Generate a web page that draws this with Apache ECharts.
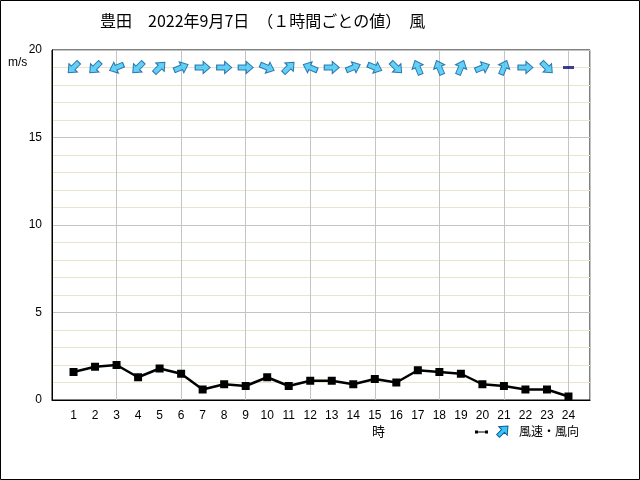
<!DOCTYPE html>
<html><head><meta charset="utf-8">
<script src="https://cdn.jsdelivr.net/npm/echarts@6/dist/echarts.min.js"></script>
<style>html,body{margin:0;padding:0;background:#fff}#c{width:640px;height:480px}</style>
</head><body><div id="c"></div>
<script>
const hours = [1,2,3,4,5,6,7,8,9,10,11,12,13,14,15,16,17,18,19,20,21,22,23,24];
const speed = [1.6,1.9,2.0,1.3,1.8,1.5,0.6,0.9,0.8,1.3,0.8,1.1,1.1,0.9,1.2,1.0,1.7,1.6,1.5,0.9,0.8,0.6,0.6,0.2];
const windDir = ['北東','北東','東北東','北東','南西','西南西','西','西','西','西北西','南西','東南東','西','西南西','西北西','北西','南南東','南南東','南南西','西南西','南南西','西','北西','静穏'];
const yTicks = [0,5,10,15,20];
const arrowRowY = 19;

const dirDeg = {'北':0,'北北東':22.5,'北東':45,'東北東':67.5,'東':90,'東南東':112.5,'南東':135,'南南東':157.5,'南':180,'南南西':202.5,'南西':225,'西南西':247.5,'西':270,'西北西':292.5,'北西':315,'北北西':337.5};
const arrowPath = 'path://M0,4 L8,4 L8,0 L15,7 L8,14 L8,10 L0,10 Z';
const font = '"Liberation Sans", "DejaVu Sans", sans-serif';
const cjk = '"Noto Sans CJK JP", sans-serif';

const windData = hours.map((h,i)=>{
  const d = windDir[i];
  if (d === '静穏') {
    return {value:[h, arrowRowY], symbol:'rect', symbolSize:[11,3], symbolRotate:0,
      itemStyle:{color:'#101078', borderWidth:0}};
  }
  const b = (dirDeg[d] + 180) % 360;
  return {value:[h, arrowRowY], symbolRotate: 90 - b};
});

const chart = echarts.init(document.getElementById('c'), null, {renderer:'canvas'});
chart.setOption({
  animation:false,
  backgroundColor:'#fff',
  title:{text:'豊田　2022年9月7日　（１時間ごとの値）　風', left:95, top:8,
    textStyle:{fontFamily:cjk, fontSize:16, fontWeight:'normal', color:'#000'}},
  grid:{left:52, top:50, right:50, bottom:80, show:true, borderColor:'#000', borderWidth:1, backgroundColor:'#fff'},
  xAxis:[{
    type:'value', min:0, max:25, interval:1,
    axisLine:{lineStyle:{color:'#000', width:1}},
    axisTick:{show:false},
    splitLine:{show:false},
    axisLabel:{fontFamily:font, fontSize:12, color:'#000', margin:10,
      formatter:v=> (hours.indexOf(v)>=0 ? String(v) : '')}
  },{
    type:'value', min:0, max:25, interval:3, position:'bottom',
    axisLine:{show:false}, axisTick:{show:false}, axisLabel:{show:false},
    splitLine:{show:true, lineStyle:{color:'#c4c4c4', width:1}}
  }],
  yAxis:{
    type:'value', min:0, max:20, interval:5,
    axisLine:{show:true, lineStyle:{color:'#000'}},
    axisTick:{show:false},
    axisLabel:{fontFamily:font, fontSize:12, color:'#000', margin:10},
    splitLine:{show:true, lineStyle:{color:'#c4c4c4'}},
    minorTick:{show:false, splitNumber:5},
    minorSplitLine:{show:true, lineStyle:{color:'#ebe4cc'}}
  },
  series:[{
    type:'line', name:'風速', data: hours.map((h,i)=>[h, speed[i]]),
    lineStyle:{color:'#000', width:2.5}, itemStyle:{color:'#000'},
    symbol:'rect', symbolSize:8, z:5
  },{
    type:'scatter', name:'風向', data: windData,
    symbol: arrowPath, symbolSize:[15,12],
    itemStyle:{color:'#3cc4f6', borderColor:'#0a5a9a', borderWidth:1}, z:6
  }],
  graphic:[
    {type:'rect', shape:{x:0.5,y:0.5,width:639,height:479}, style:{fill:null, stroke:'#000', lineWidth:1}},
    {type:'text', x:8, y:57, style:{text:'m/s', font:'12px ' + font, fill:'#000'}},
    {type:'text', x:372, y:425, style:{text:'時', font:'13px ' + cjk, fill:'#000'}},
    {type:'line', shape:{x1:476,y1:432,x2:487,y2:432}, style:{stroke:'#000', lineWidth:1}},
    {type:'rect', shape:{x:475,y:430.5,width:3,height:3}, style:{fill:'#000'}},
    {type:'rect', shape:{x:485,y:430.5,width:3,height:3}, style:{fill:'#000'}},
    {type:'polygon', shape:{points:[[-7,-2],[0,-2],[0,-6],[7,0],[0,6],[0,2],[-7,2]]},
      x:503, y:431, rotation:Math.PI/4,
      style:{fill:'#3cc4f6', stroke:'#0a5a9a', lineWidth:1}},
    {type:'text', x:519, y:425, style:{text:'風速・風向', font:'12px ' + cjk, fill:'#000'}}
  ]
});
</script></body></html>
